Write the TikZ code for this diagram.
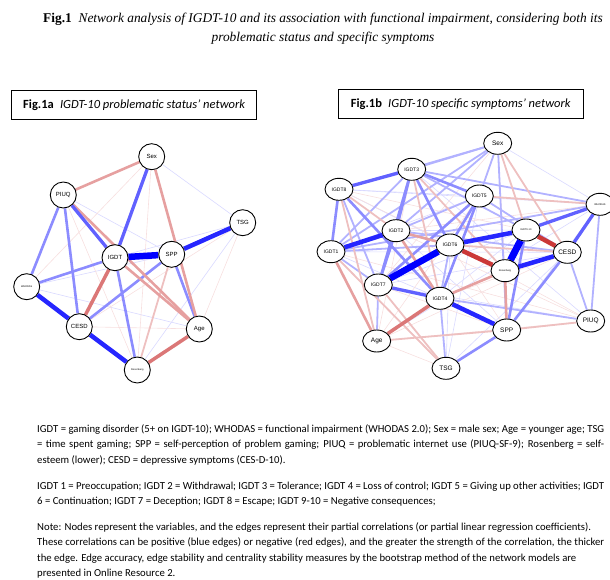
\documentclass[tikz,border=0pt]{standalone}
\usepackage{fontspec}
\setmainfont{Carlito}
\newfontfamily\titlefont{Liberation Serif}
\newfontfamily\labelfont{Liberation Sans}
\usetikzlibrary{positioning,backgrounds,shapes.geometric}
\definecolor{posblue}{RGB}{0,0,255}
\definecolor{negred}{RGB}{200,45,45}
\tikzset{
  var/.style={circle, draw, line width=0.9pt, fill=white, minimum size=26pt, inner sep=0pt,
    font=\labelfont\fontsize{6}{6}\selectfont},
  symp/.style={ellipse, draw, line width=0.9pt, fill=white, minimum width=28pt, minimum height=22pt,
    inner sep=0pt, font=\labelfont\fontsize{6.5}{6.5}\selectfont},
  tiny/.style={font=\labelfont\fontsize{2.5}{3}\selectfont},
  small/.style={font=\labelfont\fontsize{5}{5}\selectfont},
  figbox/.style={draw, line width=0.8pt, minimum width=245pt, minimum height=29pt, font=\fontsize{12.5}{14}\selectfont},
  notes/.style={anchor=north west, inner sep=0pt, text width=567pt, align=justify, font=\fontsize{10.7}{15.4}\selectfont},
  p1/.style={posblue!15, line width=0.6pt},
  p2/.style={posblue!30, line width=1.8pt},
  p3/.style={posblue!45, line width=2.6pt},
  p4/.style={posblue!62, line width=3.3pt},
  p5/.style={posblue!85, line width=4.5pt},
  p6/.style={posblue, line width=6.5pt},
  n1/.style={negred!15, line width=0.6pt},
  n2/.style={negred!30, line width=1.8pt},
  n3/.style={negred!45, line width=2.6pt},
  n4/.style={negred!65, line width=3.5pt},
  n5/.style={negred!95, line width=4.5pt}
}

\begin{document}
\begin{tikzpicture}[x=1pt, y=-1pt]
  \useasboundingbox (0,0) rectangle (610,580);

  % title
  \node (title) at (323,28.5) [align=center, font=\titlefont\fontsize{13.4}{19.5}\selectfont]
    {\textbf{Fig.1}\enspace\textit{Network analysis of IGDT-10 and its association with functional impairment, considering both its}\\
     \textit{problematic status and specific symptoms}};

  % fig 1a
  \node[figbox] (boxa) at (134.2,105) {\textbf{Fig.1a}\enspace\textit{IGDT-10 problematic status' network}};
  \node[var] (sex) at (151.7,156.7) {Sex};
  \node[var] (piuq) at (63.3,195) {PIUQ};
  \node[var] (tsg) at (242.7,222.7) {TSG};
  \node[var] (igdt) at (115,257.7) {IGDT};
  \node[var] (spp) at (171.7,254.3) {SPP};
  \node[var, tiny] (whodas) at (26.7,286.7) {WHODAS};
  \node[var] (cesd) at (79.3,326.7) {CESD};
  \node[var] (age) at (199.3,329) {Age};
  \node[var, tiny] (ros) at (137.3,370) {Rosenberg};

  \begin{scope}[on background layer]
    \foreach \a/\b in {sex/tsg, piuq/spp, whodas/age, tsg/ros, tsg/igdt, whodas/spp}
      \draw[p1] (\a) -- (\b);
    \foreach \a/\b in {sex/whodas, sex/ros, piuq/ros, cesd/age, tsg/age, tsg/cesd}
      \draw[n1] (\a) -- (\b);
    \draw[n2] (spp) -- (ros);
    \foreach \a/\b in {piuq/whodas, piuq/cesd, igdt/whodas, igdt/ros, spp/cesd, spp/age}
      \draw[p3] (\a) -- (\b);
    \foreach \a/\b in {sex/piuq, sex/age, piuq/age, igdt/age}
      \draw[n3] (\a) -- (\b);
    \draw[p4] (sex) -- (igdt);
    \draw[p4] (piuq) -- (igdt);
    \draw[n4] (igdt) -- (cesd);
    \draw[n4] (age) -- (ros);
    \draw[p5] (whodas) -- (cesd);
    \draw[p5] (cesd) -- (ros);
    \draw[p5] (spp) -- (tsg);
    \draw[p6] (igdt) -- (spp);
  \end{scope}

  % fig 1b
  \node[figbox] (boxb) at (460.8,104.2) {\textbf{Fig.1b}\enspace\textit{IGDT-10 specific symptoms' network}};
  \node[symp] (bsex) at (497.7,143.3) {Sex};
  \node[symp, small] (b3) at (411.7,169.3) {IGDT3};
  \node[symp, small] (b8) at (339,189.3) {IGDT8};
  \node[symp, small] (b5) at (479.3,196) {IGDT5};
  \node[symp, tiny] (bwho) at (600,204.3) {WHODAS};
  \node[symp, tiny] (b910) at (526,230) {IGDT9-10};
  \node[symp, small] (b2) at (396,230.7) {IGDT2};
  \node[symp, small] (b6) at (450,245) {IGDT6};
  \node[symp, small] (b1) at (331,251.7) {IGDT1};
  \node[symp] (bcesd) at (567.3,252.3) {CESD};
  \node[symp, tiny] (bros) at (505,270.7) {Rosenberg};
  \node[symp, small] (b7) at (378.3,285) {IGDT7};
  \node[symp, small] (b4) at (440,298.3) {IGDT4};
  \node[symp] (bpiuq) at (590.7,321) {PIUQ};
  \node[symp] (bspp) at (506.7,330) {SPP};
  \node[symp] (bage) at (376.7,341) {Age};
  \node[symp] (btsg) at (446,368.3) {TSG};

  \begin{scope}[on background layer]
    \foreach \a/\b in {bsex/bwho, bpiuq/b7, btsg/b7, b8/bwho, b1/bcesd, b3/bpiuq, b8/b6, bage/bwho, b5/btsg, b2/bspp,
        b8/b5, b1/b5, b2/b910, b7/b910, b4/b910, b7/bcesd, btsg/bcesd, bspp/bwho, b6/btsg, b1/b4}
      \draw[p1] (\a) -- (\b);
    \foreach \a/\b in {btsg/b1, bage/btsg, bage/b8, b5/bage, bpiuq/b6, bpiuq/b1, bwho/b2, bsex/bros, b3/bage, b8/bros, b2/bpiuq, bsex/b7,
        bage/bcesd, bage/bpiuq, b6/bspp, b7/bspp, b8/b910, b4/bcesd}
      \draw[n1] (\a) -- (\b);
    \foreach \a/\b in {b2/b5, b1/b6, b1/b7, bsex/b2, bsex/b1, bsex/b8, bsex/b3, bsex/b5, bsex/bspp, bpiuq/bcesd, bpiuq/bwho, bpiuq/b4, btsg/b4, bage/b7, b1/bwho, b2/bcesd, b5/bcesd, b3/b910, b6/b4, b3/bwho, b8/b7, b3/b1}
      \draw[p2] (\a) -- (\b);
    \foreach \a/\b in {bsex/b910, bsex/bcesd, bage/bspp, b8/b2, b3/b4, b3/bros, b7/btsg, b1/btsg, bwho/b5, bspp/bpiuq, b6/bcesd, b8/bage}
      \draw[n2] (\a) -- (\b);
    \foreach \a/\b in {b5/b4, b5/b7, b3/b2, b3/b7, b3/b6, b3/b5, b8/b1, b8/b4, b2/b7, bspp/bcesd, bspp/b910, bspp/btsg, b5/b6}
      \draw[p3] (\a) -- (\b);
    \foreach \a/\b in {b4/bros, bros/bspp, b1/bage, b2/b6, b2/b4}
      \draw[n3] (\a) -- (\b);
    \foreach \a/\b in {bwho/bcesd, bwho/b910, b7/b4, b3/b8}
      \draw[p4] (\a) -- (\b);
    \draw[n4] (b4) -- (bage);
    \foreach \a/\b in {b6/b910, bros/bcesd, b4/bspp, b1/b2}
      \draw[p5] (\a) -- (\b);
    \draw[n5] (b910) -- (bcesd);
    \draw[n5] (b6) -- (bros);
    \draw[p6] (b6) -- (b7);
    \draw[p6, line width=7pt] (b910) -- (bros);
  \end{scope}

  % notes
  \node[notes] (legend) at (37,424.5)
    {IGDT = gaming disorder (5+ on IGDT-10); WHODAS = functional impairment (WHODAS 2.0); Sex = male sex; Age = younger age; TSG\linebreak
     = time spent gaming; SPP = self-perception of problem gaming; PIUQ = problematic internet use (PIUQ-SF-9); Rosenberg = self-\linebreak
     esteem (lower); CESD = depressive symptoms (CES-D-10).};
  \node[notes] (items) at (37,481.5)
    {IGDT 1 = Preoccupation; IGDT 2 = Withdrawal; IGDT 3 = Tolerance; IGDT 4 = Loss of control; IGDT 5 = Giving up other activities; IGDT\linebreak
     6 = Continuation; IGDT 7 = Deception; IGDT 8 = Escape; IGDT 9-10 = Negative consequences;};
  \node[notes] (note) at (37,522.5)
    {Note: Nodes represent the variables, and the edges represent their partial correlations (or partial linear regression coefficients).\\
     These correlations can be positive (blue edges) or negative (red edges), and the greater the strength of the correlation, the thicker\linebreak
     the edge. Edge accuracy, edge stability and centrality stability measures by the bootstrap method of the network models are\\
     presented in Online Resource 2.};
\end{tikzpicture}
\end{document}
